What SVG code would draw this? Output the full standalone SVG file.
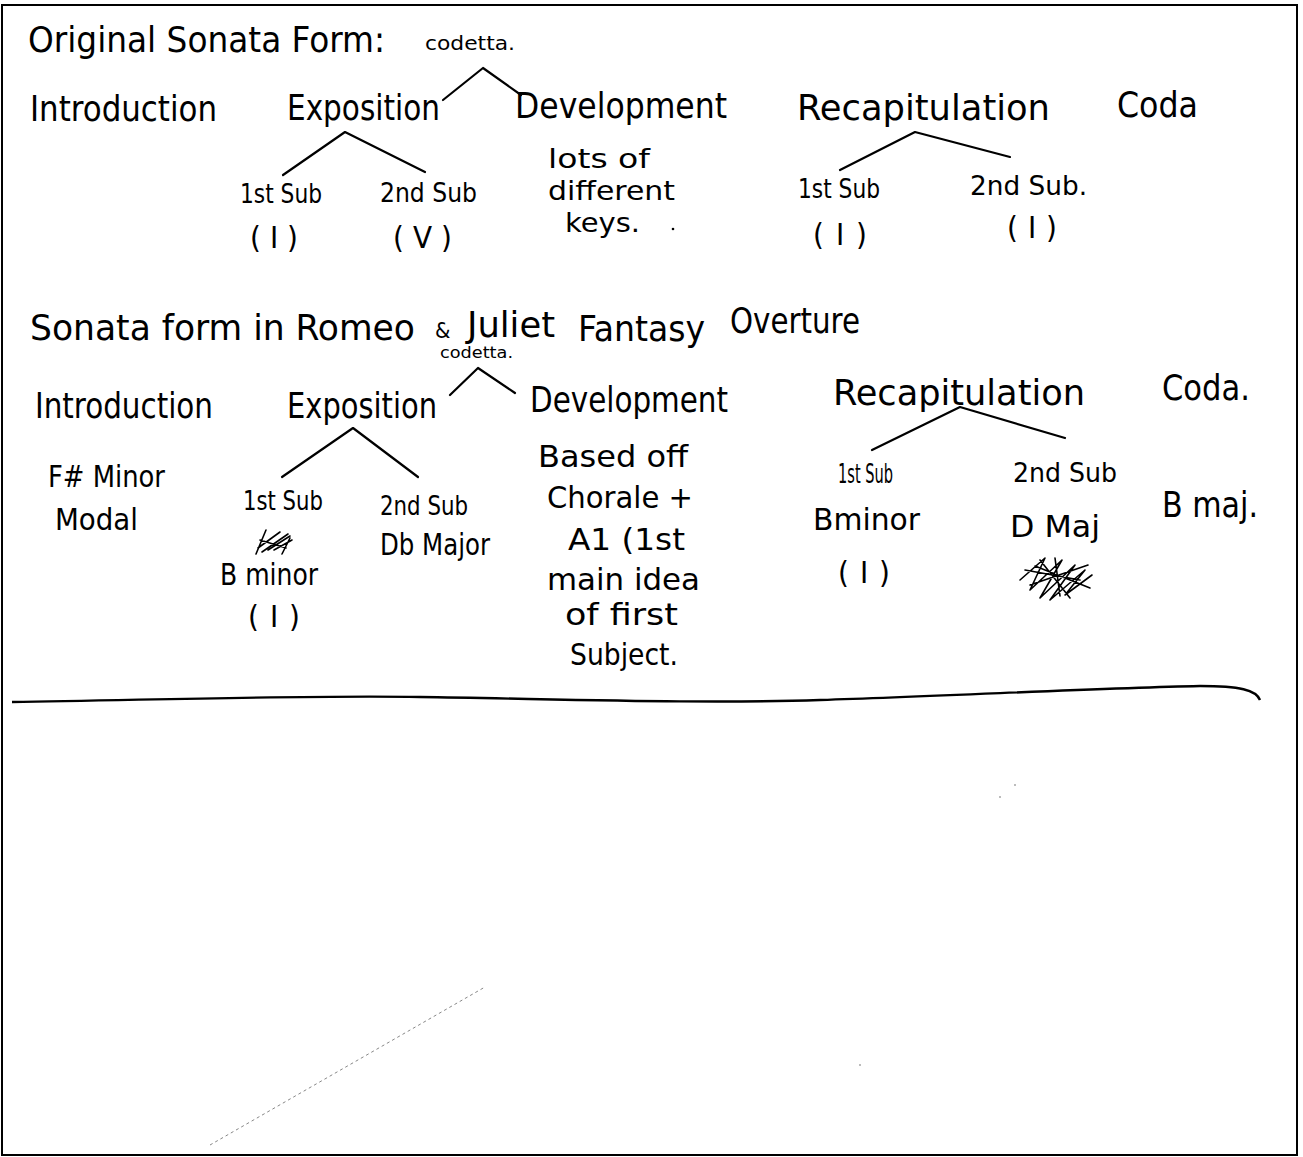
<svg xmlns="http://www.w3.org/2000/svg" width="1303" height="1157" viewBox="0 0 1303 1157">
<style>
text{font-family:"Liberation Sans Narrow","DejaVu Sans Condensed","Liberation Sans",sans-serif;fill:#000}
.h{font-size:36px}
.s{font-size:27px}
.n{font-size:31px}
.d{font-size:27px}
.c{stroke:#000;stroke-width:2.2;fill:none;stroke-linecap:round;stroke-linejoin:round}
.sc{stroke:#000;stroke-width:1.6;fill:none;stroke-linecap:round;stroke-linejoin:round}
</style>
<rect width="1303" height="1157" fill="#fff"/>
<g id="page-border">
<rect x="2" y="5" width="1295" height="1150" fill="none" stroke="#000" stroke-width="2"/>
</g>

<g id="title-original">
<text class="h" x="28" y="52" textLength="357" lengthAdjust="spacingAndGlyphs" font-size="34">Original Sonata Form:</text>
</g>
<g id="codetta-1"><text x="425" y="50" font-size="20" textLength="90" lengthAdjust="spacingAndGlyphs">codetta.</text></g>
<g id="intro-1"><text class="h" x="30" y="121" textLength="187" lengthAdjust="spacingAndGlyphs">Introduction</text></g>
<g id="expo-1"><text class="h" x="287" y="120" textLength="153" lengthAdjust="spacingAndGlyphs">Exposition</text></g>
<g id="dev-1"><text class="h" x="515" y="118" textLength="212" lengthAdjust="spacingAndGlyphs">Development</text></g>
<g id="recap-1"><text class="h" x="797" y="120" textLength="253" lengthAdjust="spacingAndGlyphs">Recapitulation</text></g>
<g id="coda-1"><text class="h" x="1117" y="117" textLength="81" lengthAdjust="spacingAndGlyphs">Coda</text></g>

<g id="expo1-sub1">
<text class="s" x="240" y="203" textLength="82" lengthAdjust="spacingAndGlyphs">1st Sub</text>
<text class="n" x="250" y="248" textLength="48" lengthAdjust="spacing">(I)</text>
</g>
<g id="expo1-sub2">
<text class="s" x="380" y="202" textLength="97" lengthAdjust="spacingAndGlyphs">2nd Sub</text>
<text class="n" x="393" y="248" textLength="59" lengthAdjust="spacing">(V)</text>
</g>
<g id="dev1-note">
<text class="d" x="548" y="168" textLength="102" lengthAdjust="spacingAndGlyphs">lots of</text>
<text class="d" x="548" y="200" textLength="127" lengthAdjust="spacingAndGlyphs">different</text>
<text class="d" x="565" y="232" textLength="75" lengthAdjust="spacingAndGlyphs">keys.</text>
<circle cx="673" cy="229" r="1.3" fill="#000"/>
</g>
<g id="recap1-sub1">
<text class="s" x="798" y="198" textLength="82" lengthAdjust="spacingAndGlyphs">1st Sub</text>
<text class="n" x="813" y="245" textLength="54" lengthAdjust="spacing">(I)</text>
</g>
<g id="recap1-sub2">
<text class="s" x="970" y="195" textLength="117" lengthAdjust="spacingAndGlyphs">2nd Sub.</text>
<text class="n" x="1007" y="238" textLength="50" lengthAdjust="spacing">(I)</text>
</g>

<g id="title-romeo">
<text class="h" x="30" y="340" textLength="385" lengthAdjust="spacingAndGlyphs">Sonata form  in  Romeo</text>
<text x="435" y="338" font-size="22">&amp;</text>
<text class="h" x="467" y="337" textLength="88" lengthAdjust="spacingAndGlyphs">Juliet</text>
<text class="h" x="578" y="341" textLength="127" lengthAdjust="spacingAndGlyphs">Fantasy</text>
<text class="h" x="730" y="333" textLength="130" lengthAdjust="spacingAndGlyphs">Overture</text>
</g>
<g id="codetta-2"><text x="440" y="358" font-size="16" textLength="73" lengthAdjust="spacingAndGlyphs">codetta.</text></g>
<g id="intro-2">
<text class="h" x="35" y="418" textLength="178" lengthAdjust="spacingAndGlyphs">Introduction</text>
<text class="n" x="48" y="487" textLength="117" lengthAdjust="spacingAndGlyphs">F# Minor</text>
<text class="n" x="55" y="530" textLength="83" lengthAdjust="spacingAndGlyphs">Modal</text>
</g>
<g id="expo-2"><text class="h" x="287" y="418" textLength="150" lengthAdjust="spacingAndGlyphs">Exposition</text></g>
<g id="dev-2">
<text class="h" x="530" y="412" textLength="198" lengthAdjust="spacingAndGlyphs">Development</text>
<text class="n" x="538" y="467" textLength="150" lengthAdjust="spacingAndGlyphs">Based off</text>
<text class="n" x="547" y="508" textLength="146" lengthAdjust="spacingAndGlyphs">Chorale +</text>
<text class="n" x="568" y="550" textLength="117" lengthAdjust="spacingAndGlyphs">A1 (1st</text>
<text class="n" x="547" y="590" textLength="153" lengthAdjust="spacingAndGlyphs">main idea</text>
<text class="n" x="565" y="625" textLength="113" lengthAdjust="spacingAndGlyphs">of first</text>
<text class="n" x="570" y="665" textLength="108" lengthAdjust="spacingAndGlyphs">Subject.</text>
</g>
<g id="recap-2"><text class="h" x="833" y="405" textLength="252" lengthAdjust="spacingAndGlyphs">Recapitulation</text></g>
<g id="coda-2">
<text class="h" x="1162" y="400" textLength="88" lengthAdjust="spacingAndGlyphs">Coda.</text>
<text class="h" x="1162" y="517" textLength="96" lengthAdjust="spacingAndGlyphs">B maj.</text>
</g>
<g id="expo2-sub1">
<text class="s" x="243" y="510" textLength="80" lengthAdjust="spacingAndGlyphs">1st Sub</text>
<path class="sc" d="M256 554 L266 530 M258 548 L280 532 M262 552 L288 534 M268 550 L290 536 M274 550 L292 540 M282 554 L290 538 M260 540 L286 548"/>
<text class="n" x="220" y="585" textLength="98" lengthAdjust="spacingAndGlyphs">B minor</text>
<text class="n" x="248" y="627" textLength="52" lengthAdjust="spacing">(I)</text>
</g>
<g id="expo2-sub2">
<text class="s" x="380" y="515" textLength="88" lengthAdjust="spacingAndGlyphs">2nd Sub</text>
<text class="n" x="380" y="555" textLength="110" lengthAdjust="spacingAndGlyphs">Db Major</text>
</g>
<g id="recap2-sub1">
<text class="s" x="838" y="483" textLength="55" lengthAdjust="spacingAndGlyphs">1st Sub</text>
<text class="n" x="813" y="530" textLength="107" lengthAdjust="spacingAndGlyphs">Bminor</text>
<text class="n" x="838" y="583" textLength="52" lengthAdjust="spacing">(I)</text>
</g>
<g id="recap2-sub2">
<text class="s" x="1013" y="482" textLength="104" lengthAdjust="spacingAndGlyphs">2nd Sub</text>
<text class="n" x="1010" y="537" textLength="90" lengthAdjust="spacingAndGlyphs">D Maj</text>
<path class="sc" d="M1020 580 L1045 558 L1030 590 L1062 560 L1040 598 L1075 565 L1050 600 L1085 570 L1065 595 L1092 575 M1025 570 L1080 580 M1030 585 L1088 565 M1040 560 L1070 598 M1055 558 L1060 596 M1035 566 L1090 588"/>
</g>

<g id="connectors">
<path class="c" d="M443 100 L483 68 L521 95"/>
<path class="c" d="M283 175 L345 132 L425 172"/>
<path class="c" d="M840 170 L915 132 L1010 157"/>
<path class="c" d="M450 395 L478 368 L515 393"/>
<path class="c" d="M282 477 L353 428 L418 477"/>
<path class="c" d="M872 450 L960 407 L1065 438"/>
</g>

<g id="divider">
<path d="M12 702 C150 700 300 695 420 697 C560 699 700 704 820 700 C950 696 1100 688 1200 686 C1240 686 1256 690 1260 700" fill="none" stroke="#000" stroke-width="2.4"/>
<path d="M210 1145 L485 987" fill="none" stroke="#888" stroke-width="1" stroke-dasharray="3 3"/>
<circle cx="1015" cy="785" r="0.8" fill="#666"/>
<circle cx="1000" cy="797" r="0.8" fill="#666"/>
<circle cx="860" cy="1065" r="0.8" fill="#666"/>
</g>
</svg>
